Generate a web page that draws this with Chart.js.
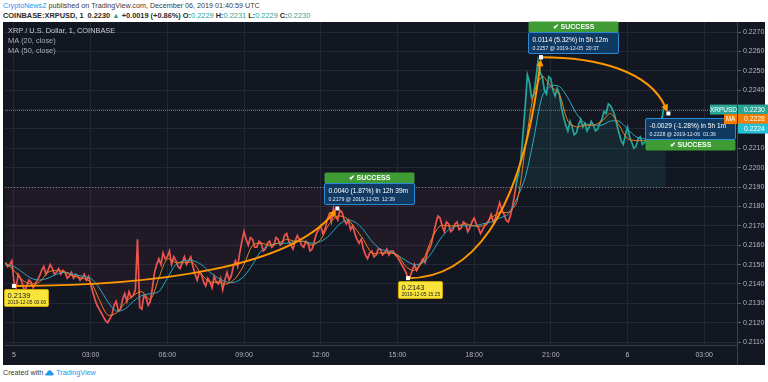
<!DOCTYPE html>
<html><head><meta charset="utf-8">
<script src="https://cdn.jsdelivr.net/npm/chart.js@4/dist/chart.umd.min.js"></script>
<style>
html,body{margin:0;padding:0;background:#fff;}
#wrap{position:relative;width:768px;height:382px;overflow:hidden;background:#fff;}
.t{position:absolute;left:3px;font-family:'Liberation Sans',Arial,sans-serif;white-space:nowrap;color:#3a3a3a;}
#h1{top:1px;font-size:7.2px;}
#h2{top:11px;font-size:7.4px;font-weight:bold;color:#2a2a2a;}
#h2 .v{color:#26a69a;font-weight:normal;}
#ft{top:368px;font-size:7.2px;}
canvas{position:absolute;left:0;top:0;}
</style></head>
<body><div id="wrap">
<div class="t" id="h1"><span style="color:#2196f3">CryptoNewsZ</span> published on TradingView.com, December 06, 2019 01:40:59 UTC</div>
<div class="t" id="h2">COINBASE:XRPUSD, 1 &nbsp;0.2230 <span style="color:#26a69a">▲</span> +0.0019 (+0.86%) O:<span class="v">0.2229</span> H:<span class="v">0.2231</span> L:<span class="v">0.2229</span> C:<span class="v">0.2230</span></div>
<div class="t" id="ft">Created with <svg width="9" height="7" viewBox="0 0 9 7" style="vertical-align:-1px"><path d="M1.5 6.5 Q0 6.5 0.3 5 Q0.6 3.8 2 4 Q2.3 1.5 4.5 1.3 Q6.8 1.3 7 3.6 Q9 3.8 8.7 5.3 Q8.4 6.5 7 6.5 Z" fill="#2196f3"/></svg> <span style="color:#2196f3">TradingView</span></div>
<canvas id="c" width="768" height="382"></canvas>
</div>
<script>
// ---- data ----
const PRICE_START = -20, PRICE_STEP = 5; // minutes from 2019-12-05 00:00
const price = [
.2151,.2149,.2150,.2152,.2141,.2138,.2145,.2143,.2140,.2136,.2139,.2142,
.2141,.2138,.2140,.2142,.2144,.2147,.2149,.2145,.2147,.2150,.2148,.2145,
.2146,.2148,.2145,.2147,.2146,.2143,.2144,.2146,.2143,.2145,.2144,.2142,
.2143,.2145,.2142,.2144,.2140,.2136,.2132,.2129,.2127,.2125,.2123,.2121,
.2120,.2122,.2124,.2129,.2131,.2126,.2127,.2132,.2135,.2131,.2136,.2133,
.2134,.2137,.2163,.2128,.2127,.2134,.2133,.2129,.2131,.2138,.2146,.2150,
.2153,.2150,.2156,.2153,.2154,.2157,.2150,.2154,.2152,.2149,.2148,.2151,
.2154,.2150,.2152,.2154,.2149,.2145,.2142,.2146,.2145,.2141,.2139,.2143,
.2141,.2138,.2144,.2141,.2140,.2143,.2137,.2142,.2146,.2142,.2144,.2149,
.2152,.2149,.2156,.2162,.2167,.2163,.2160,.2164,.2163,.2159,.2159,.2162,
.2161,.2157,.2158,.2161,.2162,.2159,.2160,.2164,.2163,.2160,.2161,.2165,
.2166,.2162,.2160,.2158,.2162,.2165,.2163,.2160,.2159,.2162,.2161,.2157,
.2158,.2162,.2166,.2168,.2170,.2166,.2168,.2173,.2176,.2172,.2179,.2175,
.2173,.2178,.2177,.2173,.2171,.2173,.2168,.2170,.2166,.2163,.2161,.2163,
.2158,.2155,.2153,.2156,.2157,.2154,.2155,.2158,.2158,.2155,.2156,.2158,
.2155,.2157,.2157,.2155,.2154,.2152,.2150,.2148,.2146,.2143,.2144,.2147,
.2150,.2147,.2149,.2151,.2153,.2151,.2156,.2158,.2161,.2166,.2171,.2175,
.2174,.2170,.2167,.2172,.2171,.2167,.2168,.2171,.2172,.2168,.2169,.2172,
.2171,.2167,.2169,.2172,.2174,.2171,.2169,.2166,.2168,.2170,.2171,.2173,
.2176,.2172,.2174,.2178,.2182,.2178,.2176,.2173,.2172,.2175,.2180,.2186,
.2193,.2198,.2205,.2218,.2232,.2248,.2244,.2236,.2238,.2246,.2255,.2249,
.2247,.2240,.2238,.2247,.2246,.2240,.2237,.2241,.2238,.2231,.2226,.2222,
.2219,.2224,.2221,.2217,.2218,.2222,.2225,.2221,.2223,.2219,.2221,.2224,
.2222,.2219,.2220,.2223,.2225,.2229,.2228,.2233,.2232,.2230,.2227,.2222,
.2218,.2214,.2212,.2217,.2221,.2216,.2213,.2210,.2211,.2215,.2216,.2212,
.2213,.2216,.2215,.2212,.2214,.2217,.2216,.2220,.2224,.2231,.2230];
const MA_START = -20, MA_STEP = 20;
const ma20 = [
.2151,.2147,.2142,.2140,.2141,.2146,.2147,.2146,.2144,.2143,.2141,.2132,
.2124,.2125,.2130,.2134,.2136,.2132,.2143,.2153,.2151,.2151,.2151,.2145,
.2141,.2141,.2140,.2143,.2150,.2160,.2161,.2160,.2161,.2163,.2162,.2162,
.2160,.2163,.2171,.2175,.2174,.2169,.2163,.2156,.2156,.2156,.2155,.2149,
.2147,.2152,.2163,.2170,.2170,.2170,.2171,.2170,.2170,.2174,.2177,.2177,
.2182,.2210,.2238,.2247,.2242,.2238,.2224,.2221,.2222,.2222,.2224,.2228,
.2222,.2215,.2214,.2214,.2214,.2226];
const ma50 = [
.2150,.2149,.2146,.2143,.2142,.2143,.2145,.2146,.2145,.2144,.2143,.2138,
.2131,.2126,.2127,.2131,.2134,.2135,.2136,.2143,.2150,.2152,.2152,.2150,
.2146,.2143,.2141,.2141,.2144,.2150,.2157,.2160,.2161,.2161,.2162,.2162,
.2161,.2162,.2165,.2170,.2173,.2172,.2168,.2162,.2158,.2157,.2155,.2152,
.2150,.2151,.2156,.2163,.2168,.2170,.2170,.2170,.2171,.2172,.2174,.2176,
.2184,.2195,.2215,.2237,.2242,.2242,.2236,.2228,.2223,.2222,.2222,.2224,
.2224,.2220,.2216,.2215,.2215,.2220];
const BASE = 0.2190;      // baseline level
const LAST = 0.2230, LAST_MA20 = 0.2228, LAST_MA50 = 0.2224;
const xTickVals = [0,180,360,540,720,900,1080,1260,1440,1620];
const xTickLabels = ['5','03:00','06:00','09:00','12:00','15:00','18:00','21:00','6','03:00'];
const yTicks = [0.2110,0.2120,0.2130,0.2140,0.2150,0.2160,0.2170,0.2180,0.2190,0.2200,0.2210,0.2220,0.2230,0.2240,0.2250,0.2260,0.2270];
// forecasts: source (time, price) -> target (time, price)
const fcSrcT = [0, 925, 1237], fcSrcP = [0.2139, 0.2143, 0.2257];
const fcTgtT = [759, 1237, 1536], fcTgtP = [0.2179, 0.2257, 0.2228];
const fcMain = ['0.0040 (1.87%) in 12h 39m','0.0114 (5.32%) in 5h 12m','-0.0029 (-1.28%) in 5h 1m'];
const fcSub = ['0.2179 @ 2019-12-05  12:39','0.2257 @ 2019-12-05  20:37','0.2228 @ 2019-12-06  01:36'];
const srcLbl = ['0.2139','0.2143',null], srcDate = ['2019-12-05 00:00','2019-12-05 15:25',null];

// ---- style ----
const FONT = "'Liberation Sans', Arial, sans-serif";
const BG = '#131722', GRID = '#242836', AXL = '#3a3e4a', TXT = '#b2b5be';
const RED = '#ef5350', TEAL = '#26a69a', MA20C = '#f07d1a', MA50C = '#2aa9c2', ORANGE = '#ff9800';

const pricePts = price.map((v,i)=>({x:PRICE_START+i*PRICE_STEP, y:v}));
const ma20Pts = ma20.map((v,i)=>({x:MA_START+i*MA_STEP, y:v}));
const ma50Pts = ma50.map((v,i)=>({x:MA_START+i*MA_STEP, y:v}));

function rr(ctx,x,y,w,h,r){ctx.beginPath();ctx.moveTo(x+r,y);ctx.lineTo(x+w-r,y);ctx.quadraticCurveTo(x+w,y,x+w,y+r);ctx.lineTo(x+w,y+h-r);ctx.quadraticCurveTo(x+w,y+h,x+w-r,y+h);ctx.lineTo(x+r,y+h);ctx.quadraticCurveTo(x,y+h,x,y+h-r);ctx.lineTo(x,y+r);ctx.quadraticCurveTo(x,y,x+r,y);ctx.closePath();}

const annot = {
  id:'annot',
  beforeDraw(c){
    const ctx=c.ctx; ctx.save(); ctx.fillStyle=BG; ctx.fillRect(3,22,762,343); ctx.restore();
  },
  beforeDatasetsDraw(c){
    const {ctx, chartArea:a, scales:{y}} = c;
    ctx.save();
    const yb = Math.round(y.getPixelForValue(BASE))+0.5;
    ctx.strokeStyle='rgba(200,200,210,0.55)'; ctx.lineWidth=1; ctx.setLineDash([1,2]);
    ctx.beginPath(); ctx.moveTo(a.left,yb); ctx.lineTo(a.right,yb); ctx.stroke();
    const yl = Math.round(y.getPixelForValue(LAST))+0.5;
    ctx.strokeStyle='rgba(38,166,154,0.8)'; ctx.setLineDash([1,1]);
    ctx.beginPath(); ctx.moveTo(a.left,yl); ctx.lineTo(a.right,yl); ctx.stroke();
    ctx.restore();
  },
  afterDatasetsDraw(c){
    const {ctx, scales:{x,y}} = c;
    ctx.save();
    for(let i=0;i<fcSrcT.length;i++){
      const x0=x.getPixelForValue(fcSrcT[i]), y0=y.getPixelForValue(fcSrcP[i]);
      const x1=x.getPixelForValue(fcTgtT[i]), y1=y.getPixelForValue(fcTgtP[i]);
      const dx=x1-x0, dy=y1-y0;
      const c1x=x0+0.45*dx, c1y=y0, c2x=x0+0.85*dx, c2y=y0+0.25*dy;
      let ux=x1-c2x, uy=y1-c2y; const L=Math.hypot(ux,uy); ux/=L; uy/=L;
      const tipx=x1-ux*2, tipy=y1-uy*2;
      ctx.strokeStyle=ORANGE; ctx.lineWidth=2; ctx.setLineDash([]);
      ctx.beginPath(); ctx.moveTo(x0,y0); ctx.bezierCurveTo(c1x,c1y,c2x,c2y,tipx-ux*5,tipy-uy*5); ctx.stroke();
      ctx.fillStyle=ORANGE; ctx.beginPath();
      ctx.moveTo(tipx,tipy);
      ctx.lineTo(tipx-ux*7-uy*3.5, tipy-uy*7+ux*3.5);
      ctx.lineTo(tipx-ux*7+uy*3.5, tipy-uy*7-ux*3.5);
      ctx.closePath(); ctx.fill();
      ctx.fillStyle='#ffffff';
      ctx.fillRect(x0-2,y0-2,4,4); ctx.fillRect(x1-2,y1-2,4,4);
    }
    for(let i=0;i<fcSrcT.length;i++){
      if(!srcLbl[i]) continue;
      const x0=x.getPixelForValue(fcSrcT[i]), y0=y.getPixelForValue(fcSrcP[i]);
      const bx=Math.round(x0-10)+0.5, by=Math.round(y0+3)+0.5;
      rr(ctx,bx,by,44,17,1.5); ctx.fillStyle='#f9e43c'; ctx.fill(); ctx.strokeStyle='#c8a800'; ctx.lineWidth=1; ctx.stroke();
      ctx.fillStyle='#222'; ctx.textBaseline='alphabetic'; ctx.textAlign='left';
      ctx.font="7.5px "+FONT; ctx.fillText(srcLbl[i], bx+3, by+8);
      ctx.font="4.9px "+FONT; ctx.fillText(srcDate[i], bx+3, by+14.5);
    }
    for(let i=0;i<fcTgtT.length;i++){
      const x1=x.getPixelForValue(fcTgtT[i]), y1=y.getPixelForValue(fcTgtP[i]);
      const up = fcTgtP[i] > fcSrcP[i];
      const w=90, hb=21, hg=11;
      const bx = Math.round(x1 - (up?13:23))+0.5;
      let byBlue, byGreen;
      if(up){ byBlue=Math.round(y1-4-hb)+0.5; byGreen=byBlue-hg; }
      else { byBlue=Math.round(y1+5)+0.5; byGreen=byBlue+hb; }
      rr(ctx,bx,byGreen,w,hg,1.5); ctx.fillStyle='#3f9c35'; ctx.fill();
      ctx.fillStyle='#ffffff'; ctx.font="bold 7px "+FONT; ctx.textAlign='center'; ctx.textBaseline='middle';
      ctx.fillText('✔ SUCCESS', bx+w/2, byGreen+hg/2+0.5);
      rr(ctx,bx,byBlue,w,hb,1.5); ctx.fillStyle='#113a63'; ctx.fill(); ctx.strokeStyle='#2a8ad8'; ctx.lineWidth=1; ctx.stroke();
      ctx.fillStyle='#ffffff'; ctx.textAlign='left'; ctx.textBaseline='alphabetic';
      ctx.font="6.6px "+FONT; ctx.fillText(fcMain[i], bx+4, byBlue+9);
      ctx.font="5.2px "+FONT; ctx.fillStyle='#dfe8f5'; ctx.fillText(fcSub[i], bx+4, byBlue+17);
    }
    ctx.restore();
  },
  afterDraw(c){
    const {ctx, chartArea:a, scales:{y}} = c;
    ctx.save();
    ctx.strokeStyle=AXL; ctx.lineWidth=1;
    ctx.beginPath(); ctx.moveTo(a.right+0.5,22); ctx.lineTo(a.right+0.5,365); ctx.stroke();
    ctx.fillStyle='#c9ccd4'; ctx.font="7.4px "+FONT; ctx.textAlign='left'; ctx.textBaseline='middle';
    ctx.fillText('XRP / U.S. Dollar, 1, COINBASE', 8, 31);
    ctx.fillStyle='#a9adb8';
    ctx.fillText('MA (20, close)', 8, 41);
    ctx.fillText('MA (50, close)', 8, 51);
    const y1 = y.getPixelForValue(LAST);
    const y2 = Math.max(y.getPixelForValue(LAST_MA20), y1+9.5);
    const y3 = Math.max(y.getPixelForValue(LAST_MA50), y2+9.5);
    const lab=(yy,txt,col,tag,tagx)=>{
      if(tag){ ctx.fillStyle=col; ctx.fillRect(tagx, yy-5, a.right-tagx, 10);
        ctx.fillStyle='#ffffff'; ctx.font="6.5px "+FONT; ctx.textAlign='center'; ctx.fillText(tag,(tagx+a.right)/2,yy+0.5); }
      ctx.fillStyle=col; ctx.fillRect(a.right+1, yy-5, 768-a.right-1, 10);
      ctx.fillStyle='#ffffff'; ctx.font="6.8px "+FONT; ctx.textAlign='left'; ctx.fillText(txt, a.right+7, yy+0.5);
    };
    lab(y1, LAST.toFixed(4), '#2ba596', 'XRPUSD', 710);
    lab(y2, LAST_MA20.toFixed(4), '#f57c00', 'MA', 724);
    lab(y3, LAST_MA50.toFixed(4), '#26c0d6', null, 0);
    ctx.restore();
  }
};

const cv=document.getElementById('c');
new Chart(cv,{
  type:'line',
  data:{datasets:[
    {label:'XRPUSD', data:pricePts, order:3, borderWidth:1.7, pointRadius:0, tension:0,
     borderColor:(ctx)=>{
       const ch=ctx.chart, a=ch.chartArea; if(!a) return RED;
       const yb=ch.scales.y.getPixelForValue(BASE);
       const g=ch.ctx.createLinearGradient(0,a.top,0,a.bottom);
       const f=Math.min(1,Math.max(0,(yb-a.top)/(a.bottom-a.top)));
       g.addColorStop(0,TEAL); g.addColorStop(f,TEAL); g.addColorStop(f,RED); g.addColorStop(1,RED);
       return g;
     },
     fill:{target:{value:BASE}, above:'rgba(38,166,154,0.12)', below:'rgba(239,83,80,0.06)'}},
    {label:'MA50', data:ma50Pts, order:2, borderColor:MA50C, borderWidth:1, pointRadius:0, fill:false, tension:0.3},
    {label:'MA20', data:ma20Pts, order:1, borderColor:MA20C, borderWidth:1, pointRadius:0, fill:false, tension:0.3}
  ]},
  options:{
    animation:false, responsive:false, devicePixelRatio:1,
    plugins:{legend:{display:false}, tooltip:{enabled:false}},
    layout:{padding:{left:5, top:22, right:0, bottom:17}},
    scales:{
      x:{type:'linear', min:-21, max:1697,
         afterBuildTicks:s=>{s.ticks=xTickVals.map(v=>({value:v}));},
         ticks:{callback:(v)=>xTickLabels[xTickVals.indexOf(v)], color:TXT, font:{family:FONT,size:7}, padding:6, maxRotation:0, autoSkip:false},
         grid:{color:GRID, drawTicks:false}, border:{color:AXL},
         afterFit:s=>{s.height=20;}},
      y:{position:'right', min:0.21085, max:0.22752,
         afterBuildTicks:s=>{s.ticks=yTicks.map(v=>({value:v}));},
         ticks:{callback:v=>Number(v).toFixed(4), color:TXT, font:{family:FONT,size:7}, padding:2, autoSkip:false},
         grid:{color:GRID, tickLength:4, tickColor:'#5d606b'}, border:{color:AXL},
         afterFit:s=>{s.width=31;}}
    }
  },
  plugins:[annot]
});
</script>
</body></html>
